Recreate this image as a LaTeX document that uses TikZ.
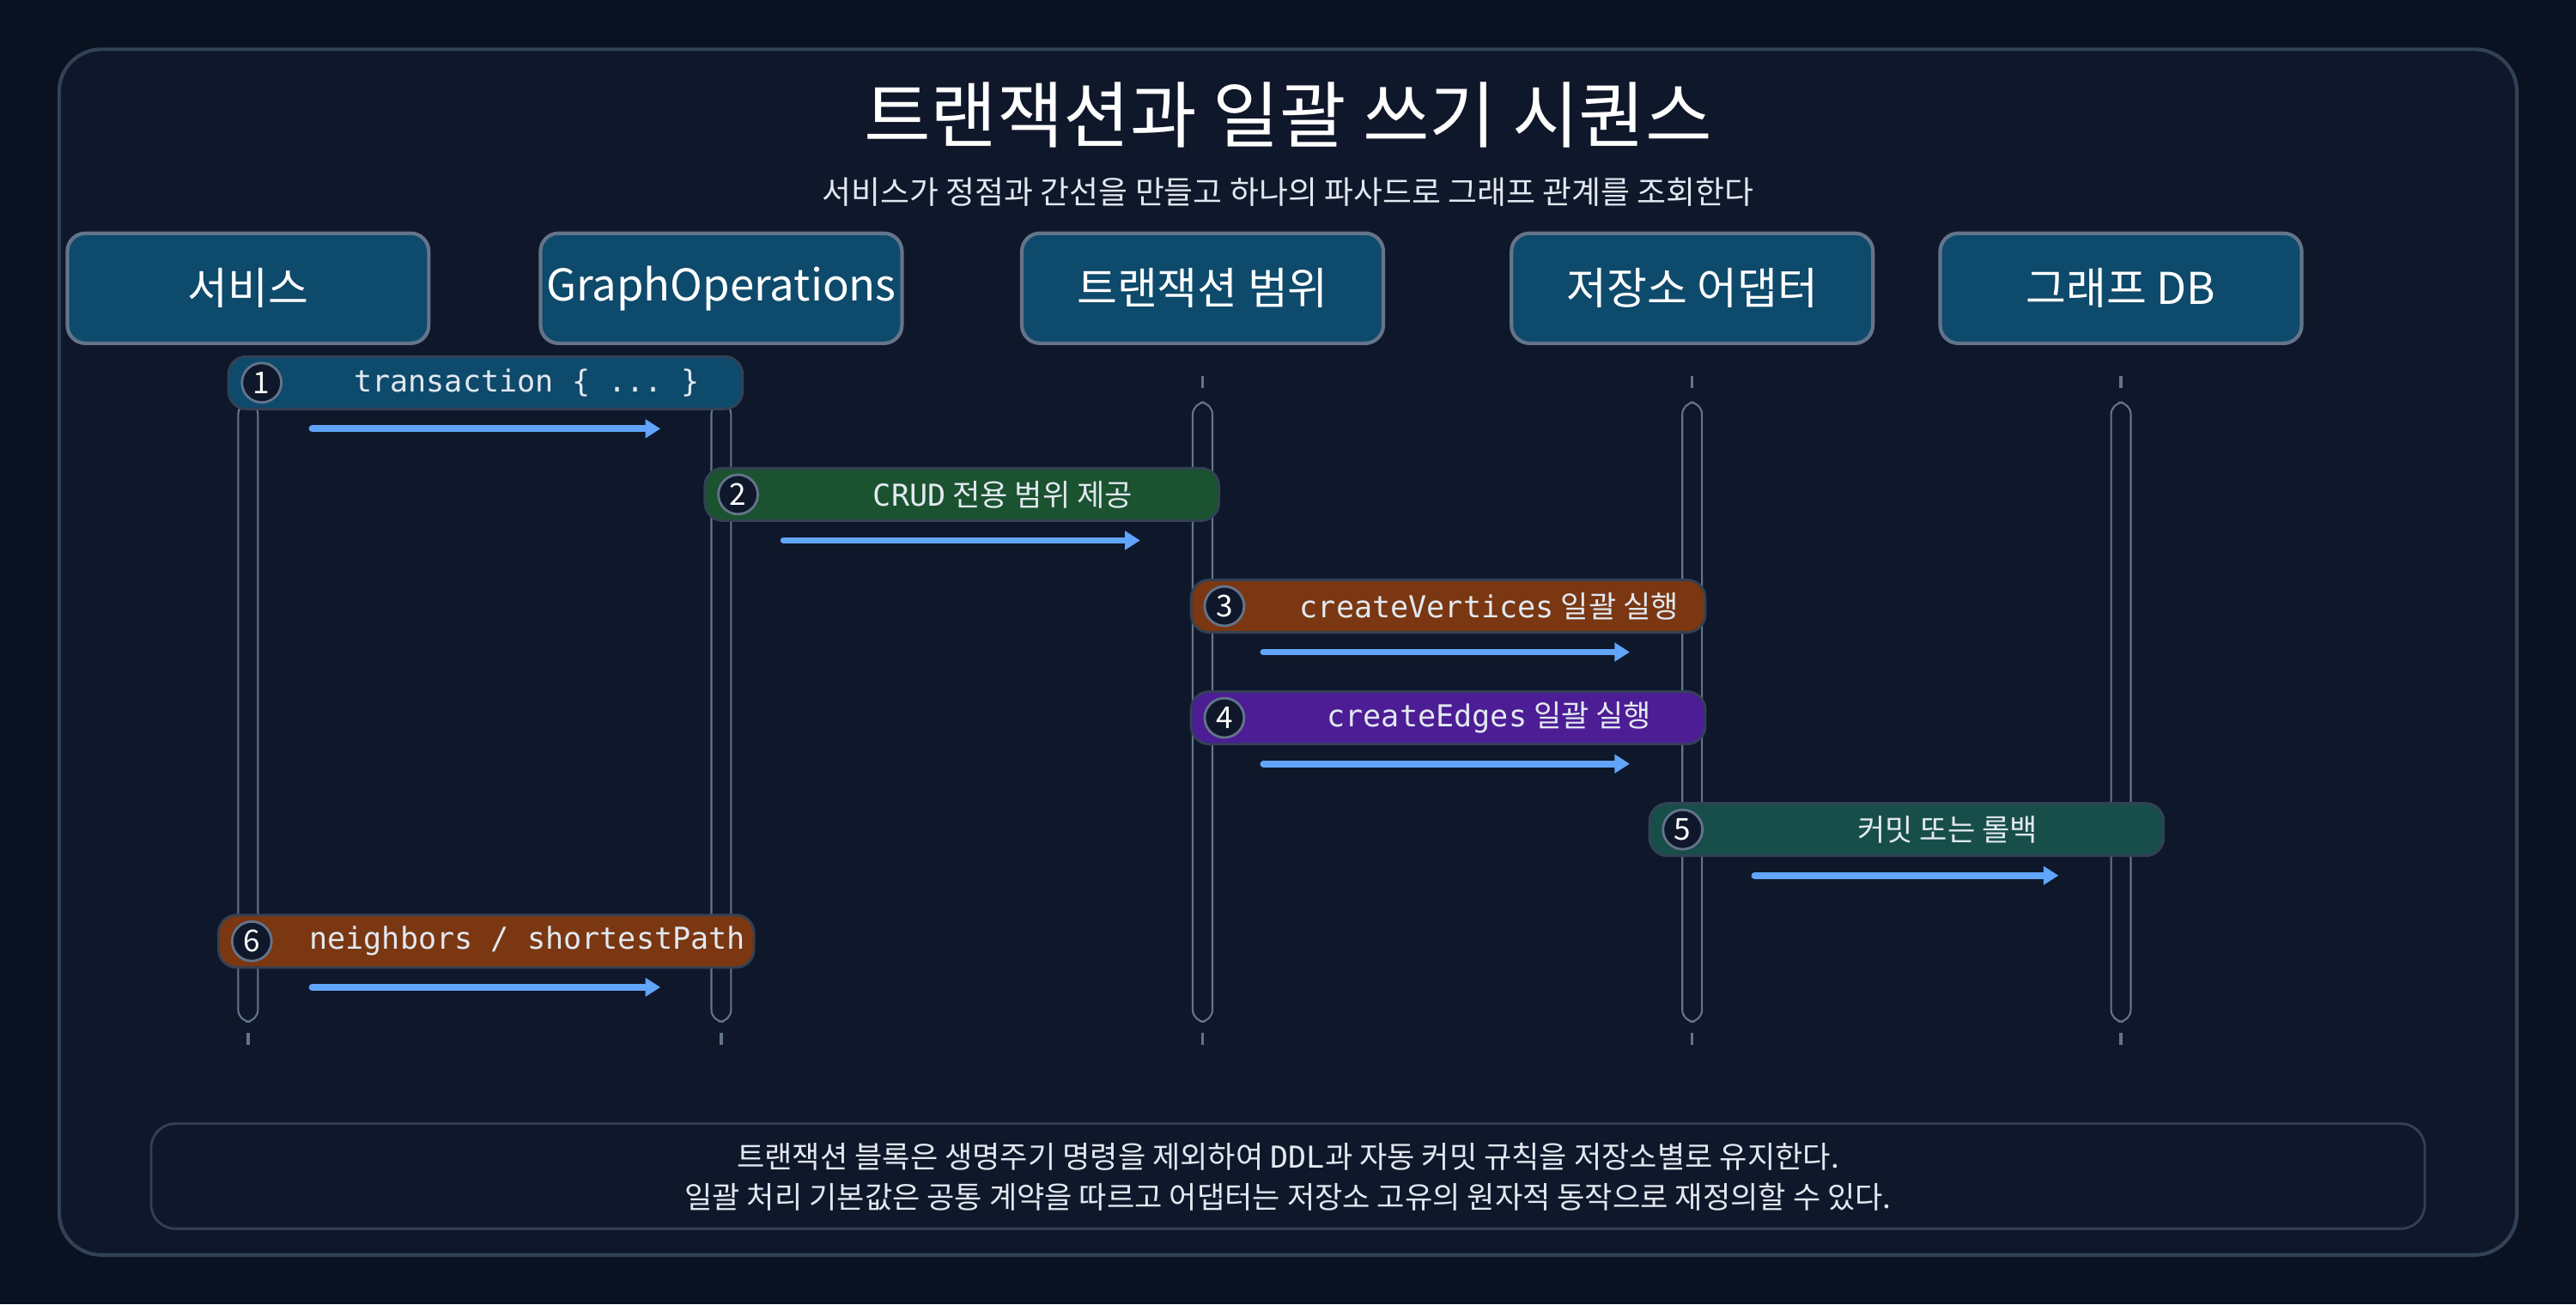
\documentclass[tikz,border=0pt]{standalone}
\usepackage{fontspec}
\setmainfont{Noto Sans CJK KR}
\setmonofont{DejaVu Sans Mono}
\newfontfamily\krf{Noto Sans CJK KR}
\usetikzlibrary{arrows.meta}
\definecolor{bgc}{HTML}{0A1120}
\definecolor{panel}{HTML}{0F172A}
\definecolor{edge}{HTML}{334155}
\definecolor{hdr}{HTML}{0E4A6B}
\definecolor{grn}{HTML}{1B5230}
\definecolor{org}{HTML}{7A3712}
\definecolor{pur}{HTML}{4C1D95}
\definecolor{tea}{HTML}{174E4A}
\definecolor{arr}{HTML}{60A5FA}
\definecolor{lif}{HTML}{64748B}
\definecolor{txt}{HTML}{E2E8F0}
\newcommand{\mt}[1]{{\ttfamily #1}}
\begin{document}
\begin{tikzpicture}[x=0.01913cm,y=-0.01913cm,
  hd/.style={draw=lif,line width=1.2pt,fill=hdr,rounded corners=6pt,minimum width=220*0.01913cm,minimum height=67*0.01913cm,text=white,font=\fontsize{14.5}{16}\selectfont,inner sep=0},
  msg/.style={draw=edge,line width=0.8pt,rounded corners=6pt,minimum height=32*0.01913cm,inner sep=0},
  mtx/.style={text=txt,font=\fontsize{10}{12}\selectfont},
  num/.style={circle,draw=lif,fill=panel,line width=0.8pt,minimum size=24*0.01913cm,inner sep=0,text=white,font=\fontsize{10}{12}\selectfont},
  ar/.style={arr,line width=2.2pt,line cap=round,-{Triangle[length=5pt,width=6pt]}},
  bar/.style={draw=lif,line width=0.6pt,rounded corners=4pt},
  tk/.style={draw=lif,line width=1pt}]
\fill[bgc] (0,0) rectangle (1568,794);
\draw[fill=panel,draw=edge,line width=1.2pt,rounded corners=14pt] (36,30) rectangle (1532,764);
\node[text=white,font=\fontsize{24}{28}\selectfont] (title) at (784,70) {트랜잭션과 일괄 쓰기 시퀀스};
\node[text=txt,font=\fontsize{10.5}{12}\selectfont] (sub) at (784,117) {서비스가 정점과 간선을 만들고 하나의 파사드로 그래프 관계를 조회한다};
% headers
\foreach \n/\x/\t in {h1/151/서비스,h2/439/GraphOperations,h3/732/트랜잭션 범위,h4/1030/저장소 어댑터,h5/1291/그래프 DB}
  \node[hd] (\n) at (\x,175.5) {\t};
% lifelines
\foreach \x in {151,439,732,1030,1291}{
  \draw[tk] (\x,229) -- (\x,236);
  \draw[tk] (\x,629) -- (\x,636);
  \draw[bar] (\x-6,245) rectangle (\x+6,622);
}
% messages
\newcommand{\msgbox}[8]{%
  \node[msg,fill=#4,minimum width=#3*0.01913cm] (m#1) at (#2,#5) {};
  \node[num] (n#1) at ([xshift=21*0.01913cm]m#1.west) {#1};
  \node[mtx] (t#1) at ([xshift=25*0.01913cm]m#1.center) {#6};
  \coordinate (a#1) at (#7,#5+28);
  \coordinate (b#1) at (#8,#5+28);
  \draw[ar] (a#1) -- (b#1);}
\msgbox{1}{295.5}{313}{hdr}{233}{\mt{transaction \{ ... \}}}{190}{402}
\msgbox{2}{585.5}{313}{grn}{301}{\mt{CRUD} 전용 범위 제공}{477}{694}
\msgbox{3}{881.5}{313}{org}{369}{\mt{createVertices} 일괄 실행}{769}{992}
\msgbox{4}{881.5}{313}{pur}{437}{\mt{createEdges} 일괄 실행}{769}{992}
\msgbox{5}{1160.5}{313}{tea}{505}{커밋 또는 롤백}{1068}{1253}
\msgbox{6}{296}{326}{org}{573}{\mt{neighbors / shortestPath}}{190}{402}
% footer
\node[draw=edge,line width=0.8pt,rounded corners=8pt,minimum width=1384*0.01913cm,minimum height=64*0.01913cm] (foot) at (784,716) {};
\node[mtx,align=center,font=\fontsize{10}{13.5}\selectfont] (ft) at (784,716.5) {트랜잭션 블록은 생명주기 명령을 제외하여 \mt{DDL}과 자동 커밋 규칙을 저장소별로 유지한다.\\일괄 처리 기본값은 공통 계약을 따르고 어댑터는 저장소 고유의 원자적 동작으로 재정의할 수 있다.};
\end{tikzpicture}
\end{document}
